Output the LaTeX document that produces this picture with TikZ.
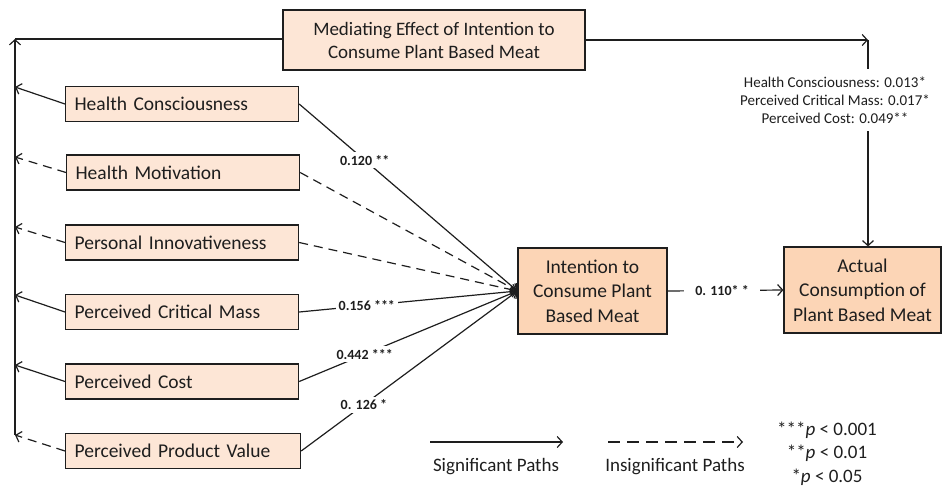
\documentclass[tikz,border=0pt]{standalone}
\usepackage{fontspec}
\setmainfont{Carlito}
\usetikzlibrary{arrows.meta}
\definecolor{boxlight}{RGB}{253,230,214}
\definecolor{boxdark}{RGB}{252,213,182}
\definecolor{inkc}{RGB}{30,30,30}
\begin{document}
\begin{tikzpicture}[x=1pt,y=-1pt,
  conn/.style={line width=1.2pt, draw=inkc},
  arr/.style={conn, -{Straight Barb[length=5pt,width=11pt,line width=1.2pt]}},
  dashln/.style={dash pattern=on 9pt off 6pt},
  boxbase/.style={draw=inkc, line width=1.2pt, text=inkc},
  varbox/.style={boxbase, fill=boxlight, minimum height=35pt, text width=215pt, inner xsep=9pt, inner ysep=0pt, align=left, anchor=west, font=\fontsize{19.5}{23}\selectfont},
  bigbox/.style={boxbase, fill=boxdark, inner sep=0pt, align=center, font=\fontsize{19.5}{24.5}\selectfont},
  elabel/.style={fill=white, inner sep=3pt, text=inkc, font=\fontsize{14}{17}\selectfont\bfseries},
  legtext/.style={text=inkc, font=\fontsize{19}{23}\selectfont, align=center}
]
\useasboundingbox (0,0) rectangle (943,488);

% nodes
\node[boxbase, fill=boxlight, minimum width=302pt, minimum height=60pt, inner sep=0pt, align=center, font=\fontsize{19}{23}\selectfont] (med) at (434,40) {Mediating Effect of Intention to\\Consume Plant Based Meat};
\node[varbox] (hc) at (65,104) {Health Consciousness};
\node[varbox] (hm) at (66,172.5) {Health Motivation};
\node[varbox] (pi) at (65,242.5) {Personal Innovativeness};
\node[varbox] (pcm) at (65,312) {Perceived Critical Mass};
\node[varbox] (pc) at (65,381.5) {Perceived Cost};
\node[varbox, text width=217pt] (ppv) at (65,451) {Perceived Product Value};
\node[bigbox, minimum width=149pt, minimum height=86pt] (int) at (592.5,291) {Intention to\\Consume Plant\\Based Meat};
\node[bigbox, minimum width=157pt, minimum height=86pt] (act) at (862.5,290) {Actual\\Consumption of\\Plant Based Meat};

% left trunk
\coordinate (vtop) at (15,39);
\coordinate (vbot) at (15,435);
\coordinate (t1) at (15,87);
\coordinate (t2) at (15,157);
\coordinate (t3) at (15,227);
\coordinate (t4) at (15,295);
\coordinate (t5) at (15,365);
\coordinate (t6) at (15,435);
\draw[arr] (vbot) -- (vtop);
\draw[conn] (med.west |- vtop) -- (vtop);
\draw[arr] (hc.west) -- (t1);
\draw[arr, dashln] (hm.west) -- (t2);
\draw[arr, dashln] (pi.west) -- (t3);
\draw[arr] (pcm.west) -- (t4);
\draw[arr] (pc.west) -- (t5);
\draw[arr, dashln] (ppv.west) -- (t6);

% paths to intention
\draw[arr] (hc.east) -- node[elabel, pos=0.3] {0.120 **} (int.west);
\draw[arr, dashln] (hm.east) -- (int.west);
\draw[arr, dashln] (pi.east) -- (int.west);
\draw[arr] (pcm.east) -- node[elabel, pos=0.31] {0.156 ***} (int.west);
\draw[arr] (pc.east) -- node[elabel, pos=0.3] {0.442 ***} (int.west);
\draw[arr] (ppv.east) -- node[elabel, pos=0.29] {0. 126 *} (int.west);

% intention to actual
\draw[arr] (int.east) -- node[elabel, pos=0.47, inner xsep=11pt] {0. 110* *} (act.west);

% mediating path
\coordinate (rc) at (868,40);
\draw[arr] (med.east) -- (rc);
\draw[arr] (rc) -- (act.north -| rc);
\node[fill=white, inner xsep=6pt, inner ysep=8pt, align=center, text=inkc, font=\fontsize{15}{18}\selectfont] (medtxt) at (835,100) {Health Consciousness: 0.013*\\Perceived Critical Mass: 0.017*\\Perceived Cost: 0.049**};

% legend
\coordinate (s1) at (430,442);
\coordinate (s2) at (563,442);
\coordinate (d1) at (608,442);
\coordinate (d2) at (743,442);
\draw[arr] (s1) -- (s2);
\draw[arr, dash pattern=on 12pt off 7pt] (d1) -- (d2);
\node[legtext] (sig) at (496,467) {Significant Paths};
\node[legtext] (insig) at (675,467) {Insignificant Paths};
\node[legtext, font=\fontsize{19}{23.5}\selectfont] (pv) at (827,453.5) {***\textit{p} < 0.001\\**\textit{p} < 0.01\\*\textit{p} < 0.05};
\end{tikzpicture}
\end{document}
